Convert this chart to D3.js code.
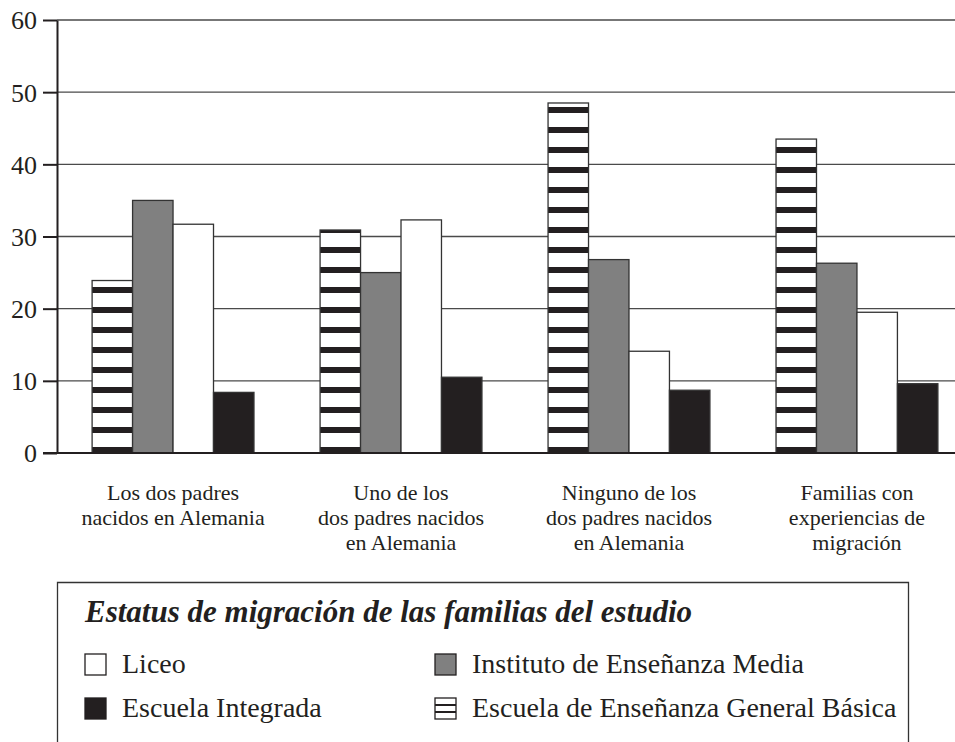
<!DOCTYPE html>
<html>
<head>
<meta charset="utf-8">
<script src="https://cdn.jsdelivr.net/npm/d3@7/dist/d3.min.js"></script>
<style>
    body { margin: 0; background: #fff; }
    #chart text { font-family: "Liberation Serif", "DejaVu Serif", serif; fill: #231f20; }
    #chart .grid line { stroke: #4a4a4a; stroke-width: 1.3; }
    #chart .axis path, #chart .axis line { stroke: #231f20; stroke-width: 2; }
    #chart .bar { stroke: #333; stroke-width: 1.3; }
</style>
</head>
<body>
<div id="chart"></div>
<script>
    const categoryLabels = [
        ["Los dos padres", "nacidos en Alemania"],
        ["Uno de los", "dos padres nacidos", "en Alemania"],
        ["Ninguno de los", "dos padres nacidos", "en Alemania"],
        ["Familias con", "experiencias de", "migración"]
    ];
    const schools = ["Escuela de Enseñanza General Básica", "Instituto de Enseñanza Media", "Liceo", "Escuela Integrada"];
    const basicaValues = [23.9, 30.9, 48.5, 43.5];
    const mediaValues = [35.0, 25.0, 26.8, 26.3];
    const liceoValues = [31.7, 32.3, 14.1, 19.5];
    const integradaValues = [8.4, 10.5, 8.7, 9.6];
    const yTicks = [0, 10, 20, 30, 40, 50, 60];
    const legendTitle = "Estatus de migración de las familias del estudio";
    const legendOrder = ["Liceo", "Instituto de Enseñanza Media", "Escuela Integrada", "Escuela de Enseñanza General Básica"];

    (function () {
        const width = 955, height = 742;
        const seriesValues = [basicaValues, mediaValues, liceoValues, integradaValues];
        const categories = categoryLabels.map(function (d) { return d.join(" "); });

        const fills = {
            "Escuela de Enseñanza General Básica": "url(#stripes)",
            "Instituto de Enseñanza Media": "#808080",
            "Liceo": "#ffffff",
            "Escuela Integrada": "#231f20"
        };

        const svg = d3.select("#chart").append("svg")
            .attr("width", width)
            .attr("height", height);

        const x = d3.scaleBand()
            .domain(categories)
            .range([57, 973])
            .paddingInner(0.29)
            .paddingOuter(0.154);

        const xs = d3.scaleBand()
            .domain(schools)
            .range([0, x.bandwidth()]);

        const y = d3.scaleLinear()
            .domain([0, 60])
            .range([453, 20]);

        // horizontal stripes, anchored on the baseline
        const pattern = svg.append("defs").append("pattern")
            .attr("id", "stripes")
            .attr("patternUnits", "userSpaceOnUse")
            .attr("x", 0)
            .attr("y", y(0) - 6)
            .attr("width", 20)
            .attr("height", 20);
        pattern.append("rect").attr("width", 20).attr("height", 20).attr("fill", "#fff");
        pattern.append("rect").attr("width", 20).attr("height", 6).attr("fill", "#231f20");

        // grid
        svg.append("g")
            .attr("class", "grid")
            .selectAll("line")
            .data(yTicks.filter(function (d) { return d > 0; }))
            .enter().append("line")
            .attr("x1", 57)
            .attr("x2", width)
            .attr("y1", function (d) { return y(d); })
            .attr("y2", function (d) { return y(d); });

        // bars
        const groups = svg.append("g")
            .selectAll("g")
            .data(categories)
            .enter().append("g")
            .attr("transform", function (d) { return "translate(" + x(d) + ",0)"; });

        groups.selectAll("rect")
            .data(function (d, i) {
                return schools.map(function (s, j) { return {school: s, value: seriesValues[j][i]}; });
            })
            .enter().append("rect")
            .attr("class", "bar")
            .attr("x", function (d) { return xs(d.school); })
            .attr("width", xs.bandwidth())
            .attr("y", function (d) { return y(d.value); })
            .attr("height", function (d) { return y(0) - y(d.value); })
            .attr("fill", function (d) { return fills[d.school]; });

        // y axis
        const yAxis = svg.append("g")
            .attr("class", "axis")
            .attr("transform", "translate(57,0)")
            .call(d3.axisLeft(y).tickValues(yTicks).tickSize(14).tickSizeOuter(0).tickPadding(6));
        yAxis.selectAll("text")
            .style("font-size", "26px")
            .attr("dy", "0.34em");

        // baseline
        svg.append("line")
            .attr("x1", 43)
            .attr("x2", width)
            .attr("y1", y(0))
            .attr("y2", y(0))
            .attr("stroke", "#231f20")
            .attr("stroke-width", 2);

        // category labels
        svg.append("g")
            .selectAll("text")
            .data(categoryLabels)
            .enter().append("text")
            .attr("text-anchor", "middle")
            .style("font-size", "22px")
            .attr("transform", function (d, i) {
                return "translate(" + (x(categories[i]) + x.bandwidth() / 2) + ",500)";
            })
            .selectAll("tspan")
            .data(function (d) { return d; })
            .enter().append("tspan")
            .attr("x", 0)
            .attr("y", function (d, i) { return i * 25; })
            .text(function (d) { return d; });

        // legend
        const legend = svg.append("g");
        legend.append("path")
            .attr("d", "M57.5,746V582.5H908.5V746")
            .attr("fill", "none")
            .attr("stroke", "#333")
            .attr("stroke-width", 1.3);

        legend.append("text")
            .attr("x", 85)
            .attr("y", 622)
            .style("font-size", "31px")
            .style("font-weight", "bold")
            .style("font-style", "italic")
            .text(legendTitle);

        const items = legend.selectAll("g.item")
            .data(legendOrder)
            .enter().append("g")
            .attr("class", "item")
            .attr("transform", function (d, i) {
                return "translate(" + (i % 2 === 0 ? 85 : 435) + "," + (654 + Math.floor(i / 2) * 44) + ")";
            });

        items.append("rect")
            .attr("width", 21)
            .attr("height", 21)
            .attr("fill", function (d) { return d === schools[0] ? "#fff" : fills[d]; })
            .attr("stroke", "#231f20")
            .attr("stroke-width", 1.3);

        items.filter(function (d) { return d === schools[0]; })
            .selectAll("line")
            .data([7, 14])
            .enter().append("line")
            .attr("x1", 0)
            .attr("x2", 21)
            .attr("y1", function (d) { return d; })
            .attr("y2", function (d) { return d; })
            .attr("stroke", "#231f20")
            .attr("stroke-width", 2);

        items.append("text")
            .attr("x", 37)
            .attr("y", 19)
            .style("font-size", "28px")
            .text(function (d) { return d; });
    })();
</script>
</body>
</html>
